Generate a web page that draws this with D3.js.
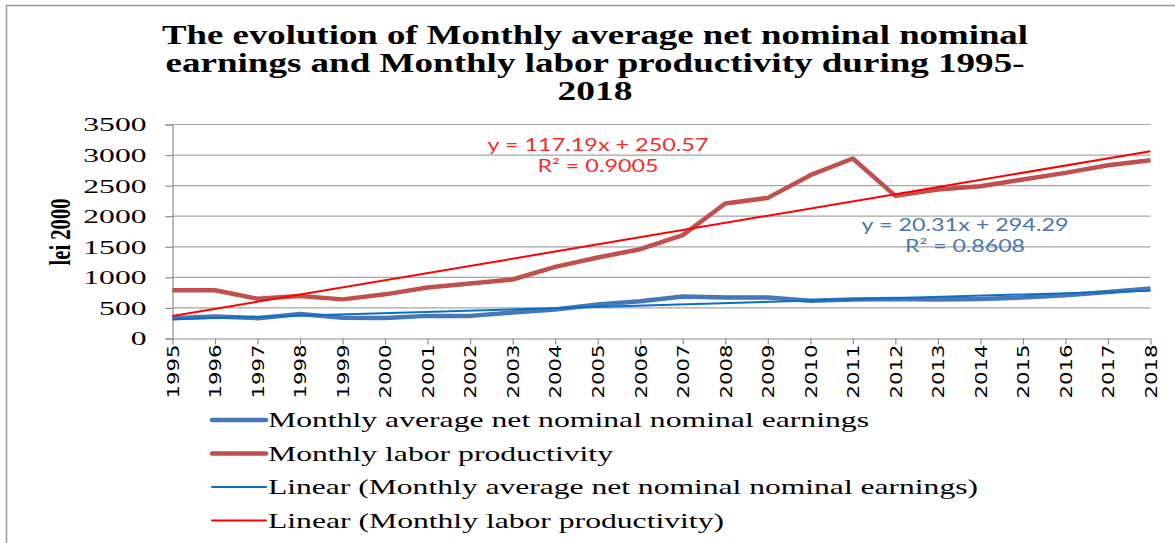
<!DOCTYPE html>
<html>
<head>
<meta charset="utf-8">
<script src="https://cdn.jsdelivr.net/npm/d3@7"></script>
<style>
body { margin: 0; background: #fff; }
svg { display: block; }
.serif { font-family: "Liberation Serif", "Times New Roman", serif; fill: #000; }
.ytick text { font-family: "Liberation Serif", serif; font-size: 19px; fill: #000; }
.xtick text { font-family: "DejaVu Sans", sans-serif; font-size: 16px; fill: #000; }
.eq { font-family: "Lato", "Liberation Sans", sans-serif; font-size: 17px; }
</style>
</head>
<body>
<div id="chart"></div>
<script>
(function() {

// data
var years = [1995, 1996, 1997, 1998, 1999, 2000, 2001, 2002, 2003, 2004, 2005, 2006,
             2007, 2008, 2009, 2010, 2011, 2012, 2013, 2014, 2015, 2016, 2017, 2018];
var earnings = [333, 361, 333, 400, 338, 335, 370, 370, 425, 474, 556, 610,
                688, 670, 670, 618, 638, 648, 638, 645, 670, 708, 762, 818];
var productivity = [788, 788, 650, 694, 640, 722, 834, 900, 965, 1171, 1325, 1460,
                    1690, 2208, 2300, 2671, 2944, 2333, 2437, 2490, 2600, 2709, 2834, 2916];
var yTicks = [0, 500, 1000, 1500, 2000, 2500, 3000, 3500];
// trend lines: [slope, intercept], x = 1..24
var earningsTrend = [20.31, 294.29];
var productivityTrend = [117.19, 250.57];
var earningsR2 = 0.8608;
var productivityR2 = 0.9005;

var titleLines = ["The evolution of Monthly average net nominal nominal",
                  "earnings and Monthly labor productivity during 1995-",
                  "2018"];
var legendLabels = ["Monthly average net nominal nominal earnings",
                    "Monthly labor productivity",
                    "Linear (Monthly average net nominal nominal earnings)",
                    "Linear (Monthly labor productivity)"];

var W = 1175, H = 543;
var blue = "#4677b8", red = "#c0504d", trendBlue = "#0a6fc4", trendRed = "#ff0000";

var svg = d3.select("#chart").append("svg")
    .attr("width", W)
    .attr("height", H);

// chart area frame
svg.append("rect")
    .attr("x", 6.5).attr("y", 5.5)
    .attr("width", 1300).attr("height", 700)
    .style("fill", "none").style("stroke", "#9a9a9a").style("stroke-width", 1.5);

var x = d3.scalePoint()
    .domain(years)
    .range([172.5, 1150.5]);

var y = d3.scaleLinear()
    .domain([0, 3500])
    .range([338.5, 124.5]);

// title
var titleLen = [866, 859, 75];
svg.selectAll(".title")
    .data(titleLines)
  .enter().append("text")
    .attr("class", "title serif")
    .attr("x", 595)
    .attr("y", function(d, i) { return 44 + i * 28; })
    .attr("text-anchor", "middle")
    .attr("textLength", function(d, i) { return titleLen[i]; })
    .attr("lengthAdjust", "spacingAndGlyphs")
    .style("font-size", "28px")
    .style("font-weight", "bold")
    .text(function(d) { return d; });

// gridlines
svg.append("g")
    .selectAll("line")
    .data(yTicks.slice(1))
  .enter().append("line")
    .attr("x1", x.range()[0]).attr("x2", x.range()[1])
    .attr("y1", function(d) { return y(d); })
    .attr("y2", function(d) { return y(d); })
    .style("stroke", "#a6a6a6").style("stroke-width", 1.2);

// y axis
var yAxis = svg.append("g")
    .attr("class", "ytick")
    .attr("transform", "translate(" + x.range()[0] + ",0)")
    .call(d3.axisLeft(y).tickValues(yTicks).tickFormat(d3.format("d")).tickSize(7).tickPadding(19));
yAxis.selectAll("path, line").style("stroke", "#8c8c8c").style("stroke-width", 1.2);
yAxis.selectAll(".tick text")
    .attr("dy", "0.34em")
    .attr("textLength", function(d) { return String(d).length * 15.8; })
    .attr("lengthAdjust", "spacingAndGlyphs");

// x axis
var xAxis = svg.append("g")
    .attr("class", "xtick")
    .attr("transform", "translate(0," + y(0) + ")")
    .call(d3.axisBottom(x).tickSize(6).tickSizeOuter(0));
xAxis.selectAll("path, line").style("stroke", "#8c8c8c").style("stroke-width", 1.2);
xAxis.selectAll(".tick text")
    .attr("transform", "rotate(-90)")
    .attr("text-anchor", "end")
    .attr("x", -6)
    .attr("y", 0)
    .attr("dy", "0.36em")
    .attr("textLength", 54)
    .attr("lengthAdjust", "spacingAndGlyphs");

// y label (glyphs look stretched sideways in the original)
svg.append("text")
    .attr("class", "serif")
    .attr("transform", "translate(70,232) scale(1.45,1) rotate(-90)")
    .attr("text-anchor", "middle")
    .style("font-size", "20px")
    .style("font-weight", "bold")
    .attr("textLength", 67)
    .attr("lengthAdjust", "spacingAndGlyphs")
    .text("lei 2000");

var line = d3.line()
    .x(function(d, i) { return x(years[i]); })
    .y(function(d) { return y(d); });

svg.append("path")
    .datum(productivity)
    .attr("d", line)
    .style("fill", "none").style("stroke", red)
    .style("stroke-width", 4.5).style("stroke-linejoin", "round");

svg.append("path")
    .datum(earnings)
    .attr("d", line)
    .style("fill", "none").style("stroke", blue)
    .style("stroke-width", 4.5).style("stroke-linejoin", "round");

function trendPoints(t) {
  return [1, years.length].map(function(k) {
    return [x(years[k - 1]), y(t[0] * k + t[1])];
  });
}

svg.append("path")
    .attr("d", d3.line()(trendPoints(earningsTrend)))
    .style("fill", "none").style("stroke", trendBlue).style("stroke-width", 2);

svg.append("path")
    .attr("d", d3.line()(trendPoints(productivityTrend)))
    .style("fill", "none").style("stroke", trendRed).style("stroke-width", 2);

// trend equations
function eqLabel(t, r2, cx, by, color, lens) {
  var g = svg.append("g").attr("class", "eq").style("fill", color);
  g.append("text")
      .attr("x", cx).attr("y", by).attr("text-anchor", "middle")
      .attr("textLength", lens[0]).attr("lengthAdjust", "spacingAndGlyphs")
      .text("y = " + t[0] + "x + " + t[1]);
  g.append("text")
      .attr("x", cx).attr("y", by + 21).attr("text-anchor", "middle")
      .attr("textLength", lens[1]).attr("lengthAdjust", "spacingAndGlyphs")
      .text("R\u00b2 = " + r2.toFixed(4));
}
eqLabel(productivityTrend, productivityR2, 598, 151, "#f22d2d", [221, 121]);
eqLabel(earningsTrend, earningsR2, 965, 231, "#4a76ad", [207, 120]);

// legend
var legendColors = [blue, red, trendBlue, trendRed];
var legendWidths = [4.5, 4.5, 2, 2];
var legendLen = [601, 345, 710, 456];

var legend = svg.selectAll(".legend")
    .data(legendLabels)
  .enter().append("g")
    .attr("class", "legend")
    .attr("transform", function(d, i) { return "translate(212," + (420 + i * 33.5) + ")"; });

legend.append("line")
    .attr("x1", 0).attr("x2", 54)
    .style("stroke", function(d, i) { return legendColors[i]; })
    .style("stroke-width", function(d, i) { return legendWidths[i]; })
    .style("stroke-linecap", "round");

legend.append("text")
    .attr("class", "serif")
    .attr("x", 56)
    .attr("y", 7)
    .style("font-size", "21px")
    .attr("textLength", function(d, i) { return legendLen[i]; })
    .attr("lengthAdjust", "spacingAndGlyphs")
    .text(function(d) { return d; });

})()
</script>
</body>
</html>
